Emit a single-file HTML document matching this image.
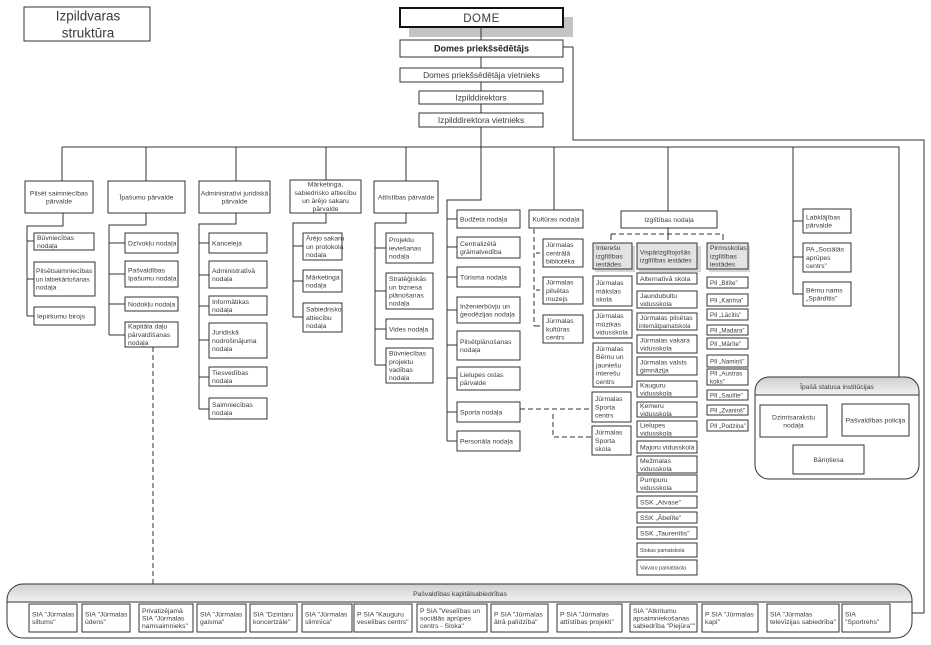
<!DOCTYPE html>
<html><head><meta charset="utf-8"><style>
html,body{margin:0;padding:0;background:#fff;}
svg{display:block;}
text{font-family:"Liberation Sans",sans-serif;fill:#3a3a3a;}
.b{font-size:6.8px;}
.c{text-anchor:middle;}
.p{font-size:6.2px;}
.s{font-size:5.3px;}
.r{fill:#fff;stroke:#333;stroke-width:1;}
.g{fill:#e3e3e3;stroke:#333;stroke-width:1;}
.l{stroke:#333;stroke-width:1;fill:none;}
.d{stroke:#333;stroke-width:1;fill:none;stroke-dasharray:5,3;}
</style></head><body>
<svg width="931" height="645" viewBox="0 0 931 645" xmlns="http://www.w3.org/2000/svg">
<defs>
<linearGradient id="hg" x1="0" y1="0" x2="0" y2="1"><stop offset="0" stop-color="#cfcfcf"/><stop offset="1" stop-color="#f2f2f2"/></linearGradient>
<clipPath id="c1"><rect x="755" y="377" width="164" height="102" rx="14"/></clipPath>
<clipPath id="c2"><rect x="7" y="584" width="905" height="54" rx="16"/></clipPath>
</defs>

<!-- Title -->
<rect class="r" x="24" y="7" width="126" height="34"/>
<text class="c" x="88" y="20.5" font-size="13.5">Izpildvaras</text>
<text class="c" x="88" y="37.5" font-size="13.5">struktūra</text>

<!-- top chain -->
<rect x="409" y="17" width="164" height="20" fill="#c4c4c4"/>
<rect x="400" y="8" width="163" height="19" fill="#fff" stroke="#111" stroke-width="2"/>
<text class="c" x="481.5" y="22" font-size="11.5" letter-spacing="0.5">DOME</text>
<rect class="r" x="400" y="40" width="163" height="17"/>
<text class="c" x="481.5" y="51.5" font-size="9" font-weight="bold" style="fill:#222">Domes priekšsēdētājs</text>
<rect class="r" x="400" y="68" width="163" height="14"/>
<text class="c" x="481.5" y="78" font-size="8.3">Domes priekšsēdētāja vietnieks</text>
<rect class="r" x="419" y="91" width="124" height="13"/>
<text class="c" x="481" y="100.5" font-size="8.3">Izpilddirektors</text>
<rect class="r" x="419" y="113" width="124" height="14"/>
<text class="c" x="481" y="123" font-size="8.3">Izpilddirektora vietnieks</text>

<path class="l" d="M481 27V40M481 57V68M481 82V91M481 104V113M481 127V200H447V441"/>
<path class="l" d="M563 47H573V140H924V613H912"/>
<path class="l" d="M62 147H899V377M62 147V181M146 147V181M236 147V181M326 147V180M406 147V181M554 147V210M668 147V211M793 147V294"/>

<!-- Pilsēt saimniecības -->
<rect class="r" x="25" y="181" width="68" height="32"/>
<text class="b c" x="59" y="195.3">Pilsēt saimniecības</text>
<text class="b c" x="59" y="203.5">pārvalde</text>
<path class="l" d="M63 213V226H27V316M27 241H34M27 279H34M27 316H34"/>
<rect class="r" x="34" y="233" width="60" height="17"/>
<text class="b" x="37" y="239.8">Būvniecības</text><text class="b" x="37" y="248">nodaļa</text>
<rect class="r" x="34" y="262" width="61" height="34"/>
<text class="b" x="36" y="273.2" font-size="6.5">Pilsētsaimniecības</text><text class="b" x="36" y="281.4" style="font-size:6.4px">un labiekārtošanas</text><text class="b" x="36" y="289.6">nodaļa</text>
<rect class="r" x="34" y="307" width="61" height="18"/>
<text class="b" x="37" y="318.4">Iepirkumu birojs</text>

<!-- Īpašumu -->
<rect class="r" x="108" y="181" width="77" height="32"/>
<text class="b c" x="146.5" y="199.4">Īpašumu pārvalde</text>
<path class="l" d="M146 213V225H109V335M109 243H125M109 274H125M109 304H125M109 335H125"/>
<rect class="r" x="125" y="233" width="53" height="20"/>
<text class="b" x="128" y="245.4">Dzīvokļu nodaļa</text>
<rect class="r" x="125" y="261" width="53" height="26"/>
<text class="b" x="128" y="272.3">Pašvaldības</text><text class="b" x="128" y="280.5">īpašumu nodaļa</text>
<rect class="r" x="125" y="297" width="53" height="14"/>
<text class="b" x="128" y="306.4">Nodokļu nodaļa</text>
<rect class="r" x="125" y="322" width="53" height="25"/>
<text class="b" x="128" y="328.7">Kapitāla daļu</text><text class="b" x="128" y="336.9">pārvaldīšanas</text><text class="b" x="128" y="345.1">nodaļa</text>
<path class="d" d="M153 347V584"/>

<!-- Administratīvi -->
<rect class="r" x="199" y="181" width="71" height="32"/>
<text class="b c" x="234.5" y="195.3">Administratīvi juridiskā</text>
<text class="b c" x="234.5" y="203.5">pārvalde</text>
<path class="l" d="M236 213V224H199V409M199 243H209M199 275H209M199 306H209M199 340H209M199 377H209M199 409H209"/>
<rect class="r" x="209" y="233" width="58" height="20"/>
<text class="b" x="212" y="245.4">Kanceleja</text>
<rect class="r" x="209" y="261" width="58" height="27"/>
<text class="b" x="212" y="272.8">Administratīvā</text><text class="b" x="212" y="281">nodaļa</text>
<rect class="r" x="209" y="296" width="58" height="19"/>
<text class="b" x="212" y="303.8">Informātikas</text><text class="b" x="212" y="312">nodaļa</text>
<rect class="r" x="209" y="323" width="58" height="35"/>
<text class="b" x="212" y="334.7">Juridiskā</text><text class="b" x="212" y="342.9">nodrošinājuma</text><text class="b" x="212" y="351.1">nodaļa</text>
<rect class="r" x="209" y="367" width="58" height="19"/>
<text class="b" x="212" y="374.8">Tiesvedības</text><text class="b" x="212" y="383">nodaļa</text>
<rect class="r" x="209" y="398" width="58" height="21"/>
<text class="b" x="212" y="406.8">Saimniecības</text><text class="b" x="212" y="415">nodaļa</text>

<!-- Mārketinga -->
<rect class="r" x="290" y="180" width="71" height="33"/>
<text class="b c" x="325.5" y="186.6">Mārketinga,</text>
<text class="b c" x="325.5" y="194.8">sabiedrisko attiecību</text>
<text class="b c" x="325.5" y="203">un ārējo sakaru</text>
<text class="b c" x="325.5" y="211.2">pārvalde</text>
<path class="l" d="M326 213V223H293V317M293 246H303M293 281H303M293 317H303"/>
<rect class="r" x="303" y="233" width="39" height="27"/>
<text class="b" x="306" y="240.7">Ārējo sakaru</text><text class="b" x="306" y="248.9">un protokola</text><text class="b" x="306" y="257.1">nodaļa</text>
<rect class="r" x="303" y="270" width="39" height="22"/>
<text class="b" x="306" y="279.3">Mārketinga</text><text class="b" x="306" y="287.5">nodaļa</text>
<rect class="r" x="303" y="303" width="39" height="29"/>
<text class="b" x="306" y="311.7">Sabiedrisko</text><text class="b" x="306" y="319.9">attiecību</text><text class="b" x="306" y="328.1">nodaļa</text>

<!-- Attīstības -->
<rect class="r" x="374" y="181" width="64" height="32"/>
<text class="b c" x="406" y="199.4">Attīstības pārvalde</text>
<path class="l" d="M406 213V223H375V365M375 248H386M375 291H386M375 329H386M375 365H386"/>
<rect class="r" x="386" y="233" width="47" height="30"/>
<text class="b" x="389" y="242.2">Projektu</text><text class="b" x="389" y="250.4">ieviešanas</text><text class="b" x="389" y="258.6">nodaļa</text>
<rect class="r" x="386" y="273" width="47" height="36"/>
<text class="b" x="389" y="281.1">Stratēģiskās</text><text class="b" x="389" y="289.3">un biznesa</text><text class="b" x="389" y="297.5">plānošanas</text><text class="b" x="389" y="305.7">nodaļa</text>
<rect class="r" x="386" y="319" width="47" height="20"/>
<text class="b" x="389" y="331.4">Vides nodaļa</text>
<rect class="r" x="386" y="348" width="47" height="35"/>
<text class="b" x="389" y="355.6">Būvniecības</text><text class="b" x="389" y="363.8">projektu</text><text class="b" x="389" y="372">vadības</text><text class="b" x="389" y="380.2">nodaļa</text>

<!-- Budžeta column -->
<path class="l" d="M447 219H457M447 247H457M447 277H457M447 310H457M447 345H457M447 378H457M447 412H457M447 441H457"/>
<rect class="r" x="457" y="210" width="63" height="18"/>
<text class="b" x="460" y="221.4">Budžeta nodaļa</text>
<rect class="r" x="457" y="237" width="63" height="21"/>
<text class="b" x="460" y="245.8">Centralizētā</text><text class="b" x="460" y="254">grāmatvedība</text>
<rect class="r" x="457" y="267" width="63" height="20"/>
<text class="b" x="460" y="279.4">Tūrisma nodaļa</text>
<rect class="r" x="457" y="297" width="63" height="26"/>
<text class="b" x="460" y="308.3">Inženierbūvju un</text><text class="b" x="460" y="316.5">ģeodēzijas nodaļa</text>
<rect class="r" x="457" y="331" width="63" height="29"/>
<text class="b" x="460" y="343.8">Pilsētplānošanas</text><text class="b" x="460" y="352">nodaļa</text>
<rect class="r" x="457" y="367" width="63" height="23"/>
<text class="b" x="460" y="376.8">Lielupes ostas</text><text class="b" x="460" y="385">pārvalde</text>
<rect class="r" x="457" y="402" width="63" height="20"/>
<text class="b" x="460" y="414.4">Sporta nodaļa</text>
<rect class="r" x="457" y="431" width="63" height="20"/>
<text class="b" x="460" y="443.4">Personāla nodaļa</text>
<path class="d" d="M520 409H592M553 414V437H592"/>

<!-- Kultūras -->
<rect class="r" x="529" y="210" width="54" height="18"/>
<text class="b c" x="556" y="221.4">Kultūras nodaļa</text>
<path class="d" d="M534 229V326"/>
<path class="l" d="M536 253H540M536 290H540M534 326H540"/>
<rect class="r" x="543" y="239" width="40" height="28"/>
<text class="b" x="546" y="247.2">Jūrmalas</text><text class="b" x="546" y="255.4">centrālā</text><text class="b" x="546" y="263.6">bibliotēka</text>
<rect class="r" x="543" y="277" width="40" height="27"/>
<text class="b" x="546" y="284.7">Jūrmalas</text><text class="b" x="546" y="292.9">pilsētas</text><text class="b" x="546" y="301.1">muzejs</text>
<rect class="r" x="543" y="315" width="40" height="28"/>
<text class="b" x="546" y="323.2">Jūrmalas</text><text class="b" x="546" y="331.4">kultūras</text><text class="b" x="546" y="339.6">centrs</text>

<!-- Izglītības -->
<rect class="r" x="621" y="211" width="96" height="17"/>
<text class="b c" x="669" y="221.9">Izglītības nodaļa</text>
<path class="d" d="M611 234H723"/>
<path class="l" d="M611 234V240M668 228V240M723 234V240"/>

<rect x="595" y="246" width="40" height="26" fill="#d6d6d6"/>
<rect x="639" y="246" width="62" height="26" fill="#d6d6d6"/>
<rect x="709" y="246" width="41" height="26" fill="#d6d6d6"/>
<rect class="g" x="593" y="243" width="39" height="26"/>
<text class="b" x="596" y="250.2">Interešu</text><text class="b" x="596" y="258.4">izglītības</text><text class="b" x="596" y="266.6">iestādes</text>
<rect class="g" x="637" y="243" width="60" height="26"/>
<text class="b" x="640" y="254.3" style="font-size:6.5px">Vispārizglītojošās</text><text class="b" x="640" y="262.5" style="font-size:6.5px">izglītības iestādes</text>
<rect class="g" x="707" y="243" width="41" height="26"/>
<text class="b" x="710" y="250.2">Pirmsskolas</text><text class="b" x="710" y="258.4">izglītības</text><text class="b" x="710" y="266.6">iestādes</text>

<!-- Interešu column -->
<rect class="r" x="593" y="276" width="39" height="30"/>
<text class="b" x="596" y="285.2">Jūrmalas</text><text class="b" x="596" y="293.4">mākslas</text><text class="b" x="596" y="301.6">skola</text>
<rect class="r" x="593" y="310" width="39" height="28"/>
<text class="b" x="596" y="318.2">Jūrmalas</text><text class="b" x="596" y="326.4">mūzikas</text><text class="b" x="596" y="334.6">vidusskola</text>
<rect class="r" x="593" y="343" width="39" height="44"/>
<text class="b" x="596" y="351">Jūrmalas</text><text class="b" x="596" y="359.2">Bērnu un</text><text class="b" x="596" y="367.4">jauniešu</text><text class="b" x="596" y="375.6">interešu</text><text class="b" x="596" y="383.8">centrs</text>
<rect class="r" x="592" y="392" width="39" height="30"/>
<text class="b" x="595" y="401.2">Jūrmalas</text><text class="b" x="595" y="409.4">Sporta</text><text class="b" x="595" y="417.6">centrs</text>
<rect class="r" x="592" y="426" width="39" height="29"/>
<text class="b" x="595" y="434.7">Jūrmalas</text><text class="b" x="595" y="442.9">Sporta</text><text class="b" x="595" y="451.1">skola</text>

<!-- Vispārizglītojošās column -->
<rect class="r" x="637" y="273" width="60" height="11"/>
<text class="b" x="640" y="280.9">Alternatīvā skola</text>
<rect class="r" x="637" y="291" width="60" height="17"/>
<text class="b" x="640" y="297.8">Jaundubultu</text><text class="b" x="640" y="306">vidusskola</text>
<rect class="r" x="637" y="313" width="60" height="17"/>
<text class="b" x="640" y="319.8">Jūrmalas pilsētas</text><text class="b" x="639" y="328" style="font-size:6.1px">internātpamatskola</text>
<rect class="r" x="637" y="335" width="60" height="18"/>
<text class="b" x="640" y="342.3">Jūrmalas vakara</text><text class="b" x="640" y="350.5">vidusskola</text>
<rect class="r" x="637" y="357" width="60" height="18"/>
<text class="b" x="640" y="364.3">Jūrmalas valsts</text><text class="b" x="640" y="372.5">ģimnāzija</text>
<rect class="r" x="637" y="381" width="60" height="16"/>
<text class="b" x="640" y="387.3">Kauguru</text><text class="b" x="640" y="395.5">vidusskola</text>
<rect class="r" x="637" y="402" width="60" height="15"/>
<text class="b" x="640" y="407.8">Ķemeru</text><text class="b" x="640" y="416">vidusskola</text>
<rect class="r" x="637" y="421" width="60" height="16"/>
<text class="b" x="640" y="427.3">Lielupes</text><text class="b" x="640" y="435.5">vidusskola</text>
<rect class="r" x="637" y="441" width="60" height="12"/>
<text class="b" x="640" y="449.4">Majoru vidusskola</text>
<rect class="r" x="637" y="456" width="60" height="17"/>
<text class="b" x="640" y="462.8">Mežmalas</text><text class="b" x="640" y="471">vidusskola</text>
<rect class="r" x="637" y="475" width="60" height="17"/>
<text class="b" x="640" y="481.8">Pumpuru</text><text class="b" x="640" y="490">vidusskola</text>
<rect class="r" x="637" y="496" width="60" height="12"/>
<text class="b" x="640" y="504.4">SSK „Atvase”</text>
<rect class="r" x="637" y="512" width="60" height="11"/>
<text class="b" x="640" y="519.9">SSK „Ābelīte”</text>
<rect class="r" x="637" y="527" width="60" height="12"/>
<text class="b" x="640" y="535.4">SSK „Taurenītis”</text>
<rect class="r" x="637" y="543" width="60" height="14"/>
<text class="s" x="640" y="552">Slokas pamatskola</text>
<rect class="r" x="637" y="560" width="60" height="15"/>
<text class="s" x="640" y="569.5">Vaivaru pamatskola</text>

<!-- Pirmsskolas column -->
<rect class="r" x="707" y="277" width="41" height="11"/><text class="p" x="710" y="284.9">PII „Bitīte”</text>
<rect class="r" x="707" y="294" width="41" height="12"/><text class="p" x="710" y="302.4">PII „Katrīna”</text>
<rect class="r" x="707" y="309" width="41" height="11"/><text class="p" x="710" y="316.9">PII „Lācītis”</text>
<rect class="r" x="707" y="325" width="41" height="10"/><text class="p" x="710" y="332.4">PII „Madara”</text>
<rect class="r" x="707" y="338" width="41" height="11"/><text class="p" x="710" y="345.9">PII „Mārīte”</text>
<rect class="r" x="707" y="355" width="41" height="12"/><text class="p" x="710" y="363.4">PII „Namiņš”</text>
<rect class="r" x="707" y="369" width="41" height="16"/><text class="p" x="710" y="375.3">PII „Austras</text><text class="p" x="710" y="383.5">koks”</text>
<rect class="r" x="707" y="390" width="41" height="10"/><text class="p" x="710" y="397.4">PII „Saulīte”</text>
<rect class="r" x="707" y="405" width="41" height="10"/><text class="p" x="710" y="412.4">PII „Zvaniņš”</text>
<rect class="r" x="707" y="420" width="41" height="11"/><text class="p" x="710" y="427.9">PII „Podziņa”</text>

<!-- Labklājības -->
<path class="l" d="M793 221H803M793 257H803M793 294H803"/>
<rect class="r" x="803" y="209" width="48" height="24"/>
<text class="b" x="806" y="219.3">Labklājības</text><text class="b" x="806" y="227.5">pārvalde</text>
<rect class="r" x="803" y="243" width="48" height="29"/>
<text class="b" x="806" y="251.7">PA „Sociālās</text><text class="b" x="806" y="259.9">aprūpes</text><text class="b" x="806" y="268.1">centrs”</text>
<rect class="r" x="803" y="282" width="48" height="24"/>
<text class="b" x="806" y="292.3">Bērnu nams</text><text class="b" x="806" y="300.5">„Spārdītis”</text>

<!-- Īpašā statusa institūcijas -->
<rect x="755" y="377" width="164" height="102" rx="14" fill="#fff"/>
<rect x="755" y="377" width="164" height="18" fill="url(#hg)" clip-path="url(#c1)"/>
<path class="l" d="M755 395H919"/>
<rect x="755" y="377" width="164" height="102" rx="14" fill="none" stroke="#333" stroke-width="1"/>
<text class="b c" x="837" y="389">Īpašā statusa institūcijas</text>
<rect class="r" x="760" y="405" width="67" height="32"/>
<text class="b c" x="793.5" y="419.3">Dzimtsarakstu</text><text class="b c" x="793.5" y="427.5">nodaļa</text>
<rect class="r" x="842" y="404" width="67" height="32"/>
<text class="b c" x="875.5" y="422.4">Pašvaldības policija</text>
<rect class="r" x="793" y="445" width="71" height="29"/>
<text class="b c" x="828.5" y="461.9">Bāriņtiesa</text>

<!-- Pašvaldības kapitālsabiedrības -->
<rect x="7" y="584" width="905" height="54" rx="16" fill="#fff"/>
<rect x="7" y="584" width="905" height="18" fill="url(#hg)" clip-path="url(#c2)"/>
<path class="l" d="M7 602H912"/>
<rect x="7" y="584" width="905" height="54" rx="16" fill="none" stroke="#333" stroke-width="1"/>
<text class="b c" x="460" y="596">Pašvaldības kapitālsabiedrības</text>

<rect class="r" x="29" y="604" width="48" height="28"/>
<text class="b" x="32" y="616.6">SIA "Jūrmalas</text><text class="b" x="32" y="624.1">siltums"</text>
<rect class="r" x="82" y="604" width="48" height="28"/>
<text class="b" x="85" y="616.6">SIA "Jūrmalas</text><text class="b" x="85" y="624.1">ūdens"</text>
<rect class="r" x="139" y="604" width="54" height="28"/>
<text class="b" x="142" y="612.9">Privatizējamā</text><text class="b" x="142" y="620.4">SIA "Jūrmalas</text><text class="b" x="142" y="627.9">namsaimnieks"</text>
<rect class="r" x="197" y="604" width="49" height="28"/>
<text class="b" x="200" y="616.6">SIA "Jūrmalas</text><text class="b" x="200" y="624.1">gaisma"</text>
<rect class="r" x="250" y="604" width="47" height="28"/>
<text class="b" x="253" y="616.6">SIA "Dzintaru</text><text class="b" x="253" y="624.1">koncertzāle"</text>
<rect class="r" x="302" y="604" width="50" height="28"/>
<text class="b" x="305" y="616.6">SIA "Jūrmalas</text><text class="b" x="305" y="624.1">slimnīca"</text>
<rect class="r" x="354" y="604" width="58" height="28"/>
<text class="b" x="357" y="616.6">P SIA "Kauguru</text><text class="b" x="357" y="624.1">veselības centrs"</text>
<rect class="r" x="417" y="604" width="70" height="28"/>
<text class="b" x="420" y="612.9">P SIA "Veselības un</text><text class="b" x="420" y="620.4">sociālās aprūpes</text><text class="b" x="420" y="627.9">centrs - Sloka"</text>
<rect class="r" x="491" y="604" width="57" height="28"/>
<text class="b" x="494" y="616.6">P SIA "Jūrmalas</text><text class="b" x="494" y="624.1">ātrā palīdzība"</text>
<rect class="r" x="557" y="604" width="65" height="28"/>
<text class="b" x="560" y="616.6">P SIA "Jūrmalas</text><text class="b" x="560" y="624.1">attīstības projekti"</text>
<rect class="r" x="630" y="604" width="67" height="28"/>
<text class="b" x="633" y="612.9">SIA "Atkritumu</text><text class="b" x="633" y="620.4">apsaimniekošanas</text><text class="b" x="633" y="627.9">sabiedrība "Piejūra""</text>
<rect class="r" x="702" y="604" width="56" height="28"/>
<text class="b" x="705" y="616.6">P SIA "Jūrmalas</text><text class="b" x="705" y="624.1">kapi"</text>
<rect class="r" x="767" y="604" width="72" height="28"/>
<text class="b" x="770" y="616.6">SIA "Jūrmalas</text><text class="b" x="770" y="624.1">televīzijas sabiedrība"</text>
<rect class="r" x="842" y="604" width="48" height="28"/>
<text class="b" x="845" y="616.6">SIA</text><text class="b" x="845" y="624.1">"Sportrehs"</text>
</svg>
</body></html>
